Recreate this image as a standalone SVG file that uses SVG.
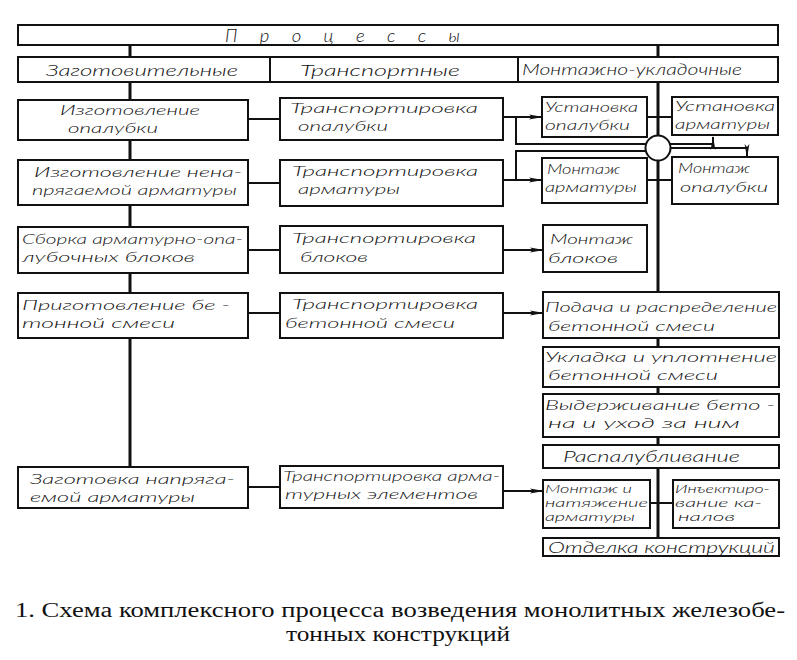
<svg xmlns="http://www.w3.org/2000/svg" width="797" height="660" viewBox="0 0 797 660">
<style>
.box{fill:#fff;stroke:#111;stroke-width:2}
.t{font-family:Lato,"Open Sans","Liberation Sans",sans-serif;font-style:italic;font-weight:300;font-size:14.5px;fill:#111}
.s{font-size:11.5px}
.ln{fill:none;stroke:#111;stroke-width:2}
.sp{fill:none;stroke:#111;stroke-width:3}
.cap{font-family:"Liberation Serif","DejaVu Serif",serif;font-size:20px;fill:#111}
</style>
<defs>
<marker id="ah" markerWidth="14" markerHeight="6" refX="13" refY="3" orient="auto" markerUnits="userSpaceOnUse">
<path d="M0,0.6 L14,3 L0,5.4 L3,3 z" fill="#111"/>
</marker>
</defs>
<rect width="797" height="660" fill="#fff"/>
<g id="connectors">
<line class="sp" x1="130" y1="45" x2="130" y2="467"/>
<line class="sp" x1="658" y1="45" x2="658" y2="538"/>
<line class="ln" x1="248" y1="119" x2="280" y2="119"/>
<line class="ln" x1="248" y1="183" x2="280" y2="183"/>
<line class="ln" x1="248" y1="250" x2="280" y2="250"/>
<line class="ln" x1="248" y1="313" x2="280" y2="313"/>
<line class="ln" x1="248" y1="487" x2="280" y2="487"/>
<line class="ln" x1="503" y1="117" x2="542" y2="117" marker-end="url(#ah)"/>
<line class="ln" x1="503" y1="180" x2="542" y2="180" marker-end="url(#ah)"/>
<line class="ln" x1="503" y1="250" x2="543" y2="250" marker-end="url(#ah)"/>
<line class="ln" x1="503" y1="313" x2="543" y2="313" marker-end="url(#ah)"/>
<line class="ln" x1="503" y1="491" x2="543" y2="491" marker-end="url(#ah)"/>
<path class="ln" d="M516,117 V144 H713 V137" marker-end="url(#ah)"/>
<path class="ln" d="M516,180 V151 H650 M666,148 H747 V157" marker-end="url(#ah)"/>
<line class="ln" x1="647" y1="117" x2="672" y2="117"/>
<line class="ln" x1="647" y1="180" x2="672" y2="180"/>
<line class="ln" x1="650" y1="503" x2="673" y2="503"/>
<circle cx="658" cy="148" r="12.5" fill="#fff" stroke="#111" stroke-width="2"/>
</g>
<g id="processes">
<rect class="box" x="18" y="25" width="760" height="20"/>
<text class="t" x="225" y="42" style="font-size:18.5px" textLength="235" lengthAdjust="spacing">П р о ц е с с ы</text>
</g>
<g id="header">
<rect class="box" x="18" y="57" width="760" height="25"/>
<line class="ln" x1="270" y1="57" x2="270" y2="82"/>
<line class="ln" x1="518" y1="57" x2="518" y2="82"/>
<text class="t" x="46" y="76" style="font-size:16px" textLength="192" lengthAdjust="spacingAndGlyphs">Заготовительные</text>
<text class="t" x="300" y="76" style="font-size:16px" textLength="160" lengthAdjust="spacingAndGlyphs">Транспортные</text>
<text class="t" x="522" y="75" style="font-size:16px" textLength="220" lengthAdjust="spacingAndGlyphs">Монтажно-укладочные</text>
</g>
<g id="l1">
<rect class="box" x="18" y="100" width="230" height="40"/>
<text class="t" x="60" y="115" textLength="140" lengthAdjust="spacingAndGlyphs">Изготовление</text>
<text class="t" x="68" y="133" textLength="90" lengthAdjust="spacingAndGlyphs">опалубки</text>
</g>
<g id="l2">
<rect class="box" x="18" y="160" width="230" height="45"/>
<text class="t" x="34" y="177" textLength="208" lengthAdjust="spacingAndGlyphs">Изготовление нена-</text>
<text class="t" x="32" y="195" textLength="205" lengthAdjust="spacingAndGlyphs">прягаемой арматуры</text>
</g>
<g id="l3">
<rect class="box" x="18" y="227" width="230" height="46"/>
<text class="t" x="22" y="244" textLength="221" lengthAdjust="spacingAndGlyphs">Сборка арматурно-опа-</text>
<text class="t" x="22" y="262" textLength="173" lengthAdjust="spacingAndGlyphs">лубочных блоков</text>
</g>
<g id="l4">
<rect class="box" x="18" y="293" width="230" height="45"/>
<text class="t" x="22" y="310" textLength="208" lengthAdjust="spacingAndGlyphs">Приготовление бе -</text>
<text class="t" x="22" y="328" textLength="153" lengthAdjust="spacingAndGlyphs">тонной смеси</text>
</g>
<g id="l5">
<rect class="box" x="18" y="467" width="230" height="41"/>
<text class="t" x="30" y="484" textLength="205" lengthAdjust="spacingAndGlyphs">Заготовка напряга-</text>
<text class="t" x="30" y="502" textLength="165" lengthAdjust="spacingAndGlyphs">емой арматуры</text>
</g>
<g id="m1">
<rect class="box" x="280" y="98" width="223" height="42"/>
<text class="t" x="290" y="113" textLength="188" lengthAdjust="spacingAndGlyphs">Транспортировка</text>
<text class="t" x="298" y="131" textLength="90" lengthAdjust="spacingAndGlyphs">опалубки</text>
</g>
<g id="m2">
<rect class="box" x="280" y="160" width="223" height="46"/>
<text class="t" x="292" y="176" textLength="186" lengthAdjust="spacingAndGlyphs">Транспортировка</text>
<text class="t" x="298" y="194" textLength="102" lengthAdjust="spacingAndGlyphs">арматуры</text>
</g>
<g id="m3">
<rect class="box" x="280" y="226" width="223" height="47"/>
<text class="t" x="292" y="243" textLength="184" lengthAdjust="spacingAndGlyphs">Транспортировка</text>
<text class="t" x="300" y="262" textLength="68" lengthAdjust="spacingAndGlyphs">блоков</text>
</g>
<g id="m4">
<rect class="box" x="280" y="293" width="223" height="45"/>
<text class="t" x="292" y="309" textLength="186" lengthAdjust="spacingAndGlyphs">Транспортировка</text>
<text class="t" x="285" y="328" textLength="170" lengthAdjust="spacingAndGlyphs">бетонной смеси</text>
</g>
<g id="m5">
<rect class="box" x="280" y="466" width="223" height="42"/>
<text class="t" x="283" y="481" textLength="217" lengthAdjust="spacingAndGlyphs">Транспортировка арма-</text>
<text class="t" x="285" y="499" textLength="193" lengthAdjust="spacingAndGlyphs">турных элементов</text>
</g>
<g id="r1a">
<rect class="box" x="542" y="97" width="105" height="40"/>
<text class="t" x="545" y="112" textLength="93" lengthAdjust="spacingAndGlyphs">Установка</text>
<text class="t" x="545" y="130" textLength="85" lengthAdjust="spacingAndGlyphs">опалубки</text>
</g>
<g id="r1b">
<rect class="box" x="672" y="97" width="106" height="38"/>
<text class="t" x="675" y="111" textLength="100" lengthAdjust="spacingAndGlyphs">Установка</text>
<text class="t" x="675" y="129" textLength="95" lengthAdjust="spacingAndGlyphs">арматуры</text>
</g>
<g id="r2a">
<rect class="box" x="542" y="158" width="105" height="45"/>
<text class="t" x="547" y="174" textLength="73" lengthAdjust="spacingAndGlyphs">Монтаж</text>
<text class="t" x="545" y="192" textLength="92" lengthAdjust="spacingAndGlyphs">арматуры</text>
</g>
<g id="r2b">
<rect class="box" x="672" y="157" width="106" height="47"/>
<text class="t" x="678" y="173" textLength="72" lengthAdjust="spacingAndGlyphs">Монтаж</text>
<text class="t" x="680" y="192" textLength="88" lengthAdjust="spacingAndGlyphs">опалубки</text>
</g>
<g id="r3">
<rect class="box" x="543" y="225" width="104" height="47"/>
<text class="t" x="550" y="244" textLength="83" lengthAdjust="spacingAndGlyphs">Монтаж</text>
<text class="t" x="548" y="263" textLength="70" lengthAdjust="spacingAndGlyphs">блоков</text>
</g>
<g id="r4">
<rect class="box" x="543" y="292" width="236" height="46"/>
<text class="t" x="545" y="312" textLength="232" lengthAdjust="spacingAndGlyphs">Подача и распределение</text>
<text class="t" x="548" y="331" textLength="167" lengthAdjust="spacingAndGlyphs">бетонной смеси</text>
</g>
<g id="r5">
<rect class="box" x="543" y="347" width="236" height="40"/>
<text class="t" x="545" y="362" textLength="232" lengthAdjust="spacingAndGlyphs">Укладка и уплотнение</text>
<text class="t" x="548" y="380" textLength="170" lengthAdjust="spacingAndGlyphs">бетонной смеси</text>
</g>
<g id="r6">
<rect class="box" x="543" y="394" width="236" height="43"/>
<text class="t" x="545" y="410" textLength="230" lengthAdjust="spacingAndGlyphs">Выдерживание бето -</text>
<text class="t" x="548" y="428" textLength="192" lengthAdjust="spacingAndGlyphs">на и уход за ним</text>
</g>
<g id="r7">
<rect class="box" x="543" y="445" width="236" height="23"/>
<text class="t" x="563" y="462" style="font-size:16px" textLength="177" lengthAdjust="spacingAndGlyphs">Распалубливание</text>
</g>
<g id="r8a">
<rect class="box" x="543" y="480" width="107" height="48"/>
<text class="t s" x="545" y="493" textLength="87" lengthAdjust="spacingAndGlyphs">Монтаж и</text>
<text class="t s" x="545" y="507" textLength="103" lengthAdjust="spacingAndGlyphs">натяжение</text>
<text class="t s" x="545" y="521" textLength="90" lengthAdjust="spacingAndGlyphs">арматуры</text>
</g>
<g id="r8b">
<rect class="box" x="673" y="480" width="106" height="48"/>
<text class="t s" x="675" y="493" textLength="95" lengthAdjust="spacingAndGlyphs">Инъектиро-</text>
<text class="t s" x="675" y="507" textLength="87" lengthAdjust="spacingAndGlyphs">вание ка-</text>
<text class="t s" x="678" y="521" textLength="57" lengthAdjust="spacingAndGlyphs">налов</text>
</g>
<g id="r9">
<rect class="box" x="543" y="538" width="236" height="18"/>
<text class="t" x="548" y="553" style="font-size:16px" textLength="227" lengthAdjust="spacingAndGlyphs">Отделка конструкций</text>
</g>
<g id="caption">
<text class="cap" x="15" y="617" textLength="770" lengthAdjust="spacingAndGlyphs">1. Схема комплексного процесса возведения монолитных железобе-</text>
<text class="cap" x="286" y="641" textLength="224" lengthAdjust="spacingAndGlyphs">тонных конструкций</text>
</g>
</svg>
